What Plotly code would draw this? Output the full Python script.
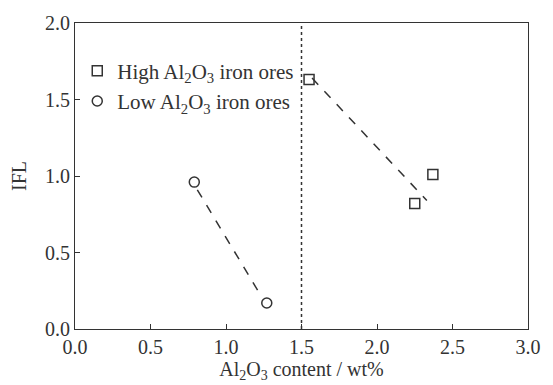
import plotly.graph_objects as go

high_x = [1.55, 2.25, 2.37]
high_y = [1.63, 0.82, 1.01]
low_x = [0.79, 1.27]
low_y = [0.96, 0.17]
high_fit_x = [1.57, 2.33]
high_fit_y = [1.64, 0.84]
low_fit_x = [0.81, 1.23]
low_fit_y = [0.91, 0.22]
ref_x = [1.5, 1.5]
ref_y = [0.0, 2.0]
x_ticks = [0.0, 0.5, 1.0, 1.5, 2.0, 2.5, 3.0]
y_ticks = [0.0, 0.5, 1.0, 1.5, 2.0]

ink = "#333333"
font = dict(family="Liberation Serif, Times New Roman, serif", size=20, color=ink)
legend_font = dict(family="Liberation Serif, Times New Roman, serif", size=21, color=ink)

fig = go.Figure()
fig.add_trace(go.Scatter(x=ref_x, y=ref_y, mode="lines",
                         line=dict(color=ink, width=1.5, dash="dot"), showlegend=False))
fig.add_trace(go.Scatter(x=high_fit_x, y=high_fit_y, mode="lines",
                         line=dict(color=ink, width=1.5, dash="dash"), showlegend=False))
fig.add_trace(go.Scatter(x=low_fit_x, y=low_fit_y, mode="lines",
                         line=dict(color=ink, width=1.5, dash="dash"), showlegend=False))
fig.add_trace(go.Scatter(x=high_x, y=high_y, mode="markers",
                         name="High Al<sub>2</sub>O<sub>3</sub> iron ores",
                         marker=dict(symbol="square-open", size=10, color=ink, line=dict(width=1.5))))
fig.add_trace(go.Scatter(x=low_x, y=low_y, mode="markers",
                         name="Low Al<sub>2</sub>O<sub>3</sub> iron ores",
                         marker=dict(symbol="circle-open", size=10, color=ink, line=dict(width=1.5))))

axis_common = dict(showgrid=False, zeroline=False, showline=True, linecolor=ink, linewidth=1.2,
                   mirror=True, ticks="inside", ticklen=5, tickcolor=ink, tickfont=font)
fig.update_xaxes(range=[0, 3], tickvals=x_ticks, ticktext=[f"{v:.1f}" for v in x_ticks],
                 title=dict(text="Al<sub>2</sub>O<sub>3</sub> content / wt%", font=font, standoff=0),
                 **axis_common)
fig.update_yaxes(range=[0, 2], tickvals=y_ticks, ticktext=[f"{v:.1f}" for v in y_ticks],
                 title=dict(text="IFL", font=font, standoff=12), **axis_common)
fig.update_layout(width=553, height=385, margin=dict(l=75, r=14, t=15, b=56),
                  paper_bgcolor="white", plot_bgcolor="white", font=font,
                  legend=dict(x=0.005, y=0.91, xanchor="left", yanchor="top",
                              bgcolor="rgba(0,0,0,0)", font=legend_font, itemwidth=30,
                              tracegroupgap=0))
fig.write_html("out.html", config={"displayModeBar": False},
               post_script="document.body.style.margin='0';"
                           "document.documentElement.style.overflow='hidden';")
